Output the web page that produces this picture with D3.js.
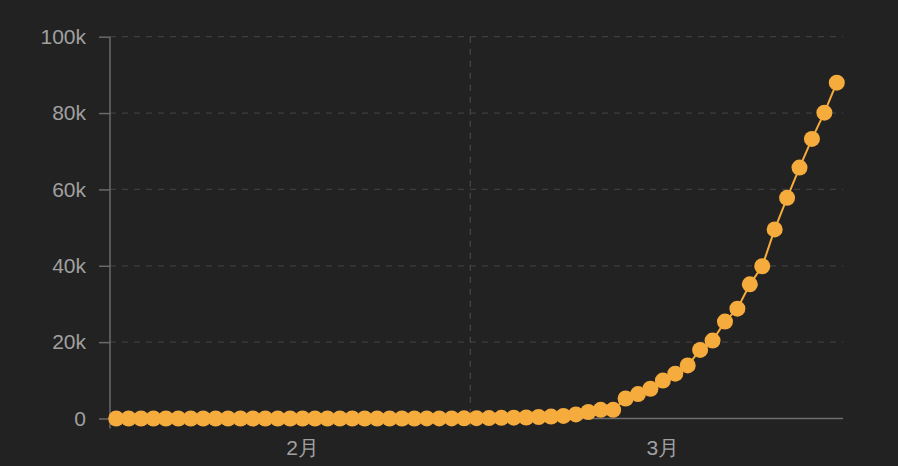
<!DOCTYPE html>
<html>
<head>
<meta charset="utf-8">
<script src="https://cdn.jsdelivr.net/npm/d3@7"></script>
<style>
  html, body { margin: 0; padding: 0; background: #222222; }
  svg { display: block; }
</style>
</head>
<body>
<script>
// daily cumulative cases, Feb 1 .. Mar 30
const firstDay = "2020-02-01";
const lastDay = "2020-03-30";
const febValues = [1,1,1,1,1,1,1,1, 2,2,2,2,2,2,2,2,2,2,2,2,2,2,2,2, 6,13,15,32,45];
const marValues = [84,120,165,222,259,400,500,673,1073,1695,2277,2277,5232,6391,7798,
  9942,11748,13910,17963,20410,25374,28768,35136,39885,49515,57786,65719,73235,80110,87956];
const yTicks = [0, 20000, 40000, 60000, 80000, 100000];
const monthLabels = ["2月", "3月"];
const monthLabelDays = ["2020-02-16", "2020-03-16"];
const monthStarts = ["2020-03-01"];

const width = 898, height = 466;
const plotLeft = 110, plotRight = 843, plotTop = 36.7, plotBottom = 418.5;
const orange = "#f5ac3c";

const parse = d3.timeParse("%Y-%m-%d");
const fmt = d3.timeFormat("%Y-%m-%d");
const days = d3.timeDay.range(parse(firstDay), d3.timeDay.offset(parse(lastDay), 1)).map(fmt);
const values = febValues.concat(marValues);
const data = days.map((d, i) => ({day: d, value: values[i]}));

const svg = d3.select("body").append("svg")
  .attr("width", width)
  .attr("height", height)
  .style("font-family", "'Noto Sans', 'Noto Sans CJK SC', sans-serif");

var x = d3.scaleBand().domain(days).range([plotLeft, plotRight]).padding(0);
var y = d3.scaleLinear().domain([0, 100000]).range([plotBottom, plotTop]);

// horizontal grid
svg.append("g").selectAll("line")
  .data(yTicks.filter(d => d > 0))
  .join("line")
  .attr("x1", plotLeft).attr("x2", plotRight)
  .attr("y1", d => y(d)).attr("y2", d => y(d))
  .attr("stroke", "#3e3e3e")
  .attr("stroke-width", 1.3)
  .attr("stroke-dasharray", "6,6");

// vertical grid at month boundary
svg.append("g").selectAll("line")
  .data(monthStarts)
  .join("line")
  .attr("x1", d => x(d)).attr("x2", d => x(d))
  .attr("y1", plotTop).attr("y2", plotBottom + 10)
  .attr("stroke", "#464646")
  .attr("stroke-width", 1.3)
  .attr("stroke-dasharray", "6,6");

// y axis
var yAxis = svg.append("g")
  .attr("transform", `translate(${plotLeft},0)`)
  .call(d3.axisLeft(y).tickValues(yTicks)
    .tickFormat(d => d === 0 ? "0" : (d / 1000) + "k")
    .tickSize(11).tickPadding(13));
yAxis.select(".domain").remove();
yAxis.selectAll(".tick line").attr("stroke", "#6a6a6a").attr("stroke-width", 1.5);
yAxis.selectAll(".tick text").attr("fill", "#a0a0a0").style("font-size", "21px");

svg.append("line")
  .attr("x1", plotLeft).attr("x2", plotLeft)
  .attr("y1", plotTop).attr("y2", plotBottom + 10)
  .attr("stroke", "#6a6a6a").attr("stroke-width", 1.5);

// x axis
var xAxis = svg.append("g")
  .attr("transform", `translate(0,${plotBottom})`)
  .call(d3.axisBottom(x).tickValues(monthLabelDays)
    .tickFormat((d, i) => monthLabels[i])
    .tickSize(0).tickSizeOuter(0));
xAxis.select(".domain").remove();
xAxis.selectAll(".tick text")
  .attr("y", 36).attr("dy", 0)
  .attr("fill", "#a0a0a0").style("font-size", "21px");

svg.append("line")
  .attr("x1", plotLeft).attr("x2", plotRight)
  .attr("y1", plotBottom).attr("y2", plotBottom)
  .attr("stroke", "#6e6e6e").attr("stroke-width", 1.6);

// series
var cx = d => x(d.day) + x.bandwidth() / 2;
svg.append("path")
  .datum(data)
  .attr("fill", "none")
  .attr("stroke", orange)
  .attr("stroke-width", 2)
  .attr("d", d3.line().x(cx).y(d => y(d.value)));

svg.append("g").selectAll("circle")
  .data(data)
  .join("circle")
  .attr("cx", cx)
  .attr("cy", d => y(d.value))
  .attr("r", 8)
  .attr("fill", orange);
</script>
</body>
</html>
